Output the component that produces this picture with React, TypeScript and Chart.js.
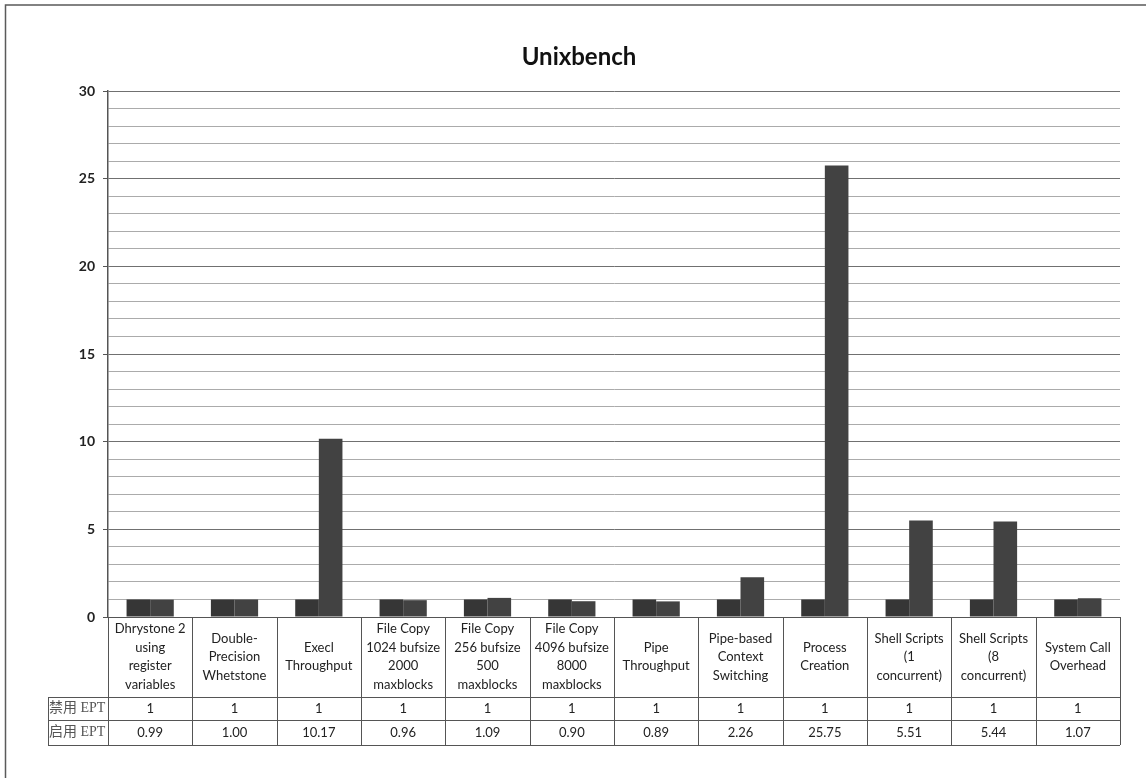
import React, { useEffect, useRef } from "react";
import { Chart, registerables } from "chart.js";

Chart.register(...registerables);

const title = "Unixbench";
const categories: string[][] = [
  ["Dhrystone 2", "using", "register", "variables"],
  ["Double-", "Precision", "Whetstone"],
  ["Execl", "Throughput"],
  ["File Copy", "1024 bufsize", "2000", "maxblocks"],
  ["File Copy", "256 bufsize", "500", "maxblocks"],
  ["File Copy", "4096 bufsize", "8000", "maxblocks"],
  ["Pipe", "Throughput"],
  ["Pipe-based", "Context", "Switching"],
  ["Process", "Creation"],
  ["Shell Scripts", "(1", "concurrent)"],
  ["Shell Scripts", "(8", "concurrent)"],
  ["System Call", "Overhead"],
];
const seriesNames = ["禁用 EPT", "启用 EPT"];
const disabledEPT = [1, 1, 1, 1, 1, 1, 1, 1, 1, 1, 1, 1];
const enabledEPT = [0.99, 1.0, 10.17, 0.96, 1.09, 0.9, 0.89, 2.26, 25.75, 5.51, 5.44, 1.07];
const disabledLabels = ["1", "1", "1", "1", "1", "1", "1", "1", "1", "1", "1", "1"];
const enabledLabels = ["0.99", "1.00", "10.17", "0.96", "1.09", "0.90", "0.89", "2.26", "25.75", "5.51", "5.44", "1.07"];
const yMin = 0;
const yMax = 30;
const yMajor = 5;

const tablePlugin = {
  id: "tablePlugin",
  beforeDraw(chart: any) {
    const ctx = chart.ctx;
    ctx.save();
    ctx.strokeStyle = "#5a5a5a";
    ctx.lineWidth = 1.5;
    ctx.beginPath();
    ctx.moveTo(5.5, 778);
    ctx.lineTo(5.5, 5);
    ctx.lineTo(1146, 5);
    ctx.stroke();
    ctx.restore();
  },
  afterDraw(chart: any) {
    const ctx = chart.ctx;
    const area = chart.chartArea;
    const x = chart.scales.x;
    const n = categories.length;
    const w = (area.right - area.left) / n;
    const labelTop = area.bottom;
    const row1Top = area.bottom + 80;
    const row2Top = row1Top + 23;
    const tableBottom = row2Top + 25;
    const rowLabelLeft = 48;

    ctx.save();
    // title
    ctx.fillStyle = "#111";
    ctx.font = "bold 24px Lato";
    ctx.textAlign = "center";
    ctx.textBaseline = "middle";
    ctx.fillText(title, 579, 57);

    // table lines
    ctx.strokeStyle = "#555";
    ctx.lineWidth = 1;
    ctx.beginPath();
    ctx.moveTo(area.left - 5, Math.round(area.bottom) + 0.5);
    ctx.lineTo(area.right, Math.round(area.bottom) + 0.5);
    for (const yy of [row1Top, row2Top, tableBottom]) {
      ctx.moveTo(rowLabelLeft, Math.round(yy) + 0.5);
      ctx.lineTo(area.right, Math.round(yy) + 0.5);
    }
    for (let i = 0; i <= n; i++) {
      const xx = Math.round(area.left + i * w) + 0.5;
      ctx.moveTo(xx, labelTop);
      ctx.lineTo(xx, tableBottom);
    }
    ctx.moveTo(rowLabelLeft + 0.5, row1Top);
    ctx.lineTo(rowLabelLeft + 0.5, tableBottom);
    ctx.stroke();

    // category labels
    ctx.fillStyle = "#222";
    ctx.font = "13px Lato";
    ctx.textAlign = "center";
    ctx.textBaseline = "middle";
    const lh = 18.5;
    const cellMid = (labelTop + row1Top) / 2;
    categories.forEach((lines, i) => {
      const cx = x.getPixelForValue(i);
      const startY = cellMid - ((lines.length - 1) * lh) / 2;
      lines.forEach((ln, j) => ctx.fillText(ln, cx, startY + j * lh));
    });

    // values
    ctx.font = "13px Lato";
    disabledLabels.forEach((s, i) => ctx.fillText(s, x.getPixelForValue(i), (row1Top + row2Top) / 2));
    enabledLabels.forEach((s, i) => ctx.fillText(s, x.getPixelForValue(i), (row2Top + tableBottom) / 2));

    // row labels
    ctx.textAlign = "left";
    ctx.fillStyle = "#555";
    ctx.font = '14px "Liberation Serif", "Noto Sans CJK SC"';
    ctx.fillText(seriesNames[0], rowLabelLeft + 1, (row1Top + row2Top) / 2);
    ctx.fillText(seriesNames[1], rowLabelLeft + 1, (row2Top + tableBottom) / 2);
    ctx.restore();
  },
};

export default function App() {
  const ref = useRef<HTMLCanvasElement>(null);
  useEffect(() => {
    if (!ref.current) return;
    const chart = new Chart(ref.current, {
      type: "bar",
      data: {
        labels: categories.map((c) => c.join(" ")),
        datasets: [
          {
            label: seriesNames[0],
            data: disabledEPT,
            backgroundColor: "#363636",
            categoryPercentage: 0.56,
            barPercentage: 1,
          },
          {
            label: seriesNames[1],
            data: enabledEPT,
            backgroundColor: "#424242",
            categoryPercentage: 0.56,
            barPercentage: 1,
          },
        ],
      },
      options: {
        animation: false,
        responsive: false,
        layout: { padding: { left: 0, top: 91, right: 26, bottom: 161 } },
        plugins: {
          legend: { display: false },
          title: { display: false },
          tooltip: { enabled: false },
        },
        scales: {
          x: { display: false, grid: { display: false } },
          y: {
            min: yMin,
            max: yMax,
            afterFit: (scale: any) => {
              scale.width = 108;
            },
            border: { display: true, color: "#555", width: 1.5 },
            grid: {
              color: (c: any) => (c.tick && c.tick.value % yMajor === 0 ? "#707070" : "#ababab"),
              tickColor: (c: any) => (c.tick && c.tick.value % yMajor === 0 ? "#555" : "rgba(0,0,0,0)"),
              tickLength: 5,
              lineWidth: 1,
            },
            ticks: {
              stepSize: 1,
              autoSkip: false,
              padding: 8,
              color: "#222",
              font: { family: "Lato", size: 14, weight: "bold" },
              callback: (v: any) => (Number(v) % yMajor === 0 ? String(v) : ""),
            },
          },
        },
      },
      plugins: [tablePlugin],
    } as any);
    return () => chart.destroy();
  }, []);
  return (
    <div style={{ position: "absolute", left: 0, top: 0, width: 1146, height: 778 }}>
      <canvas ref={ref} width={1146} height={778} />
    </div>
  );
}
